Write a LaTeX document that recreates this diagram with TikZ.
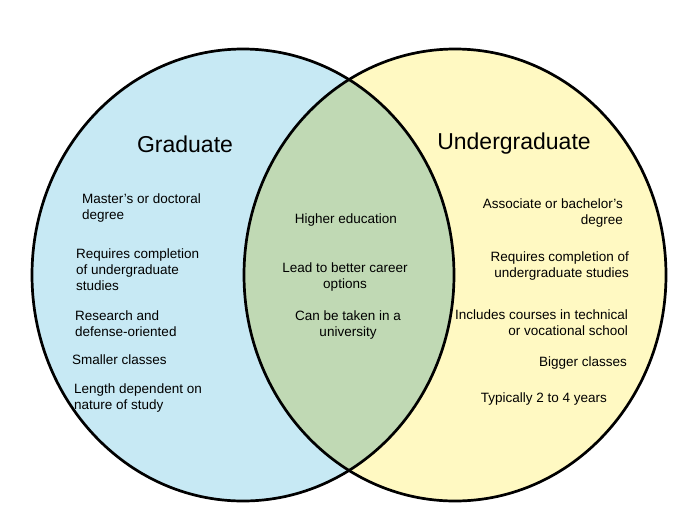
\documentclass[tikz,border=0pt]{standalone}
\usepackage{fontspec}
\setmainfont{Liberation Sans}
\usepackage{xcolor}
\definecolor{gradblue}{HTML}{C7E9F4}
\definecolor{undergradyellow}{HTML}{FFF9C2}
\definecolor{bothgreen}{HTML}{C0D9B4}

\begin{document}
\begin{tikzpicture}[
        x=1pt, y=-1pt,
        setline/.style={line width=2.7pt, black},
        setsize/.style={x radius=211pt, y radius=226pt},
        heading/.style={font=\fontsize{23}{27}\selectfont, inner sep=0pt},
        item/.style={font=\fontsize{13.5}{16}\selectfont, inner sep=0pt},
        leftitem/.style={item, align=left, anchor=west},
        rightitem/.style={item, align=right, anchor=east},
        miditem/.style={item, align=center}]
        \useasboundingbox (0,0) rectangle (700,525);
        % SETS
        % centre of set Graduate
        \coordinate (G) at (243,275);
        % centre of set Undergraduate
        \coordinate (U) at (455,275);
        \fill[gradblue] (G) ellipse [setsize];
        \fill[undergradyellow] (U) ellipse [setsize];
        % overlap
        \begin{scope}
            \clip (G) ellipse [setsize];
            \fill[bothgreen] (U) ellipse [setsize];
        \end{scope}
        \draw[setline] (G) ellipse [setsize];
        \draw[setline] (U) ellipse [setsize];

        % NODES
        % headings
        \node[heading] (Gtitle) at (185,144) {Graduate};
        \node[heading] (Utitle) at (514,144) {Undergraduate};
        % graduate only
        \node[leftitem] (G1) at (82,208) {Master’s or doctoral\\degree};
        \node[leftitem] (G2) at (76,270) {Requires completion\\of undergraduate\\studies};
        \node[leftitem] (G3) at (75,324) {Research and\\defense-oriented};
        \node[leftitem] (G4) at (72,360) {Smaller classes};
        \node[leftitem] (G5) at (74,398) {Length dependent on\\nature of study};
        % both
        \node[miditem] (B1) at (346,220) {Higher education};
        \node[miditem] (B2) at (345,277.5) {Lead to better career\\options};
        \node[miditem] (B3) at (348,325.5) {Can be taken in a\\university};
        % undergraduate only
        \node[rightitem] (U1) at (623,213.5) {Associate or bachelor’s\\degree};
        \node[rightitem] (U2) at (629,266.5) {Requires completion of\\undergraduate studies};
        \node[rightitem] (U3) at (628,322.5) {Includes courses in technical\\or vocational school};
        \node[rightitem] (U4) at (627,363) {Bigger classes};
        \node[rightitem] (U5) at (607,399) {Typically 2 to 4 years};
    \end{tikzpicture}
\end{document}
